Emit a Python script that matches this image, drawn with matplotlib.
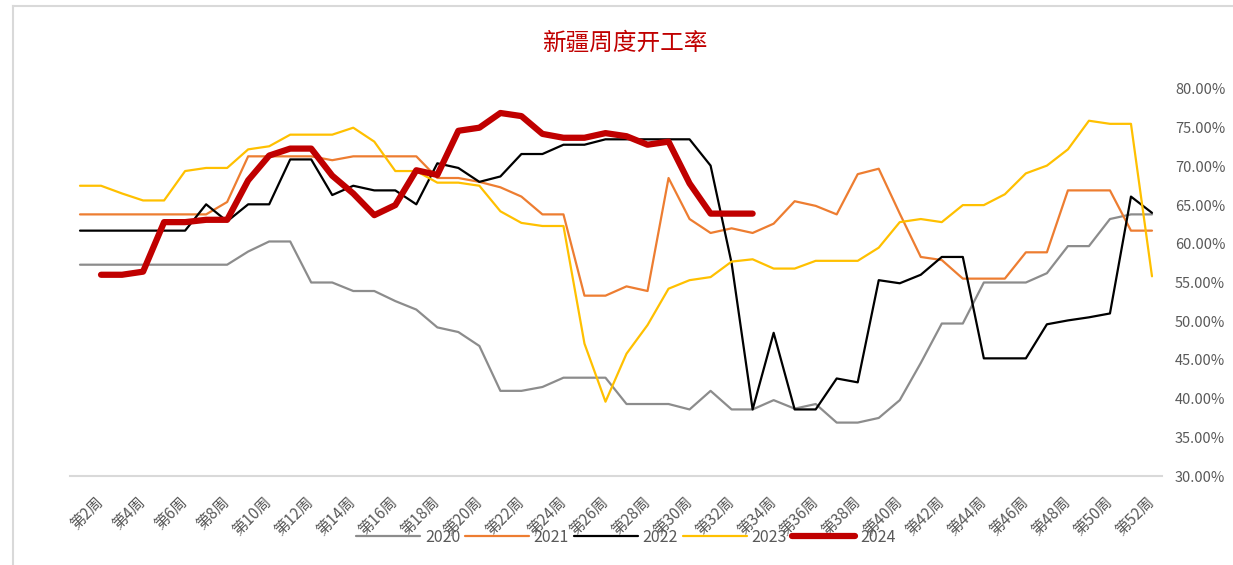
import numpy as np
import matplotlib
matplotlib.use("Agg")
import matplotlib.pyplot as plt
from matplotlib.lines import Line2D

plt.rcParams['font.family'] = ['Noto Sans CJK SC', 'DejaVu Sans']

# week 1..52
weeks = list(range(1, 53))
tick_weeks = list(range(2, 53, 2))
tick_labels = [f"第{w}周" for w in tick_weeks]

y2020 = [57.3, 57.3, 57.3, 57.3, 57.3, 57.3, 57.3, 57.3, 59.0, 60.3,
         60.3, 55.0, 55.0, 53.9, 53.9, 52.6, 51.5, 49.2, 48.6, 46.8,
         41.0, 41.0, 41.5, 42.7, 42.7, 42.7, 39.3, 39.3, 39.3, 38.6,
         41.0, 38.6, 38.6, 39.8, 38.7, 39.3, 36.9, 36.9, 37.5, 39.8,
         44.6, 49.7, 49.7, 55.0, 55.0, 55.0, 56.2, 59.7, 59.7, 63.2,
         63.8, 63.8]
y2021 = [63.8, 63.8, 63.8, 63.8, 63.8, 63.8, 63.8, 65.4, 71.3, 71.3,
         71.3, 71.3, 70.8, 71.3, 71.3, 71.3, 71.3, 68.5, 68.5, 68.0,
         67.3, 66.1, 63.8, 63.8, 53.3, 53.3, 54.5, 53.9, 68.5, 63.2,
         61.4, 62.0, 61.4, 62.6, 65.5, 64.9, 63.8, 69.0, 69.7, 63.9,
         58.3, 57.9, 55.5, 55.5, 55.5, 58.9, 58.9, 66.9, 66.9, 66.9,
         61.7, 61.7]
y2022 = [61.7, 61.7, 61.7, 61.7, 61.7, 61.7, 65.1, 62.9, 65.1, 65.1,
         70.9, 70.9, 66.3, 67.5, 66.9, 66.9, 65.1, 70.4, 69.8, 68.0,
         68.7, 71.6, 71.6, 72.8, 72.8, 73.5, 73.5, 73.5, 73.5, 73.5,
         70.1, 57.5, 38.6, 48.5, 38.6, 38.6, 42.6, 42.1, 55.3, 54.9,
         56.0, 58.3, 58.3, 45.2, 45.2, 45.2, 49.6, 50.1, 50.5, 51.0,
         66.1, 64.0]
y2023 = [67.5, 67.5, 66.5, 65.6, 65.6, 69.4, 69.8, 69.8, 72.2, 72.6,
         74.1, 74.1, 74.1, 75.0, 73.2, 69.4, 69.4, 67.9, 67.9, 67.5,
         64.2, 62.7, 62.3, 62.3, 47.1, 39.6, 45.8, 49.5, 54.2, 55.3,
         55.7, 57.7, 58.0, 56.8, 56.8, 57.8, 57.8, 57.8, 59.5, 62.8,
         63.2, 62.8, 65.0, 65.0, 66.4, 69.1, 70.1, 72.2, 75.9, 75.5,
         75.5, 55.8]
y2024 = [np.nan, 56.0, 56.0, 56.4, 62.8, 62.8, 63.1, 63.1, 68.2, 71.4,
         72.3, 72.3, 68.8, 66.5, 63.7, 65.0, 69.5, 68.9, 74.6, 75.0,
         76.9, 76.5, 74.2, 73.7, 73.7, 74.3, 73.9, 72.8, 73.2, 67.8,
         63.9, 63.9, 63.9] + [np.nan] * 19

series = [("2020", y2020, "#8C8C8C", 1.6),
          ("2021", y2021, "#ED7D31", 1.6),
          ("2022", y2022, "#000000", 1.6),
          ("2023", y2023, "#FFC000", 1.6),
          ("2024", y2024, "#C00000", 4.5)]

fig = plt.figure(figsize=(12.33, 5.65), dpi=100)
ax = fig.add_axes([69.5 / 1233, (565 - 476) / 565,
                   (1162.5 - 69.5) / 1233, 387 / 565])

for name, vals, color, lw in series:
    ax.plot(weeks, vals, color=color, lw=lw, label=name,
            solid_capstyle='round', solid_joinstyle='round')

ax.set_xlim(0.5, 52.5)
ax.set_ylim(30, 80)
ax.set_yticks(np.arange(30, 81, 5))
ax.set_yticklabels([f"{v:.2f}%" for v in np.arange(30, 81, 5)])
ax.yaxis.tick_right()
ax.tick_params(axis='y', length=0, pad=9, labelsize=10.5, labelcolor='#595959')

ax.set_xticks(tick_weeks)
ax.set_xticklabels(tick_labels, rotation=45, ha='right', va='center',
                   rotation_mode='anchor')
ax.tick_params(axis='x', length=0, pad=17, labelsize=11, labelcolor='#595959')

for s in ['top', 'left', 'right']:
    ax.spines[s].set_visible(False)
ax.spines['bottom'].set_color('#D9D9D9')
ax.spines['bottom'].set_linewidth(1.5)

fig.text(625 / 1233, 1 - 43 / 565, "新疆周度开工率", color='#C00000',
         fontsize=17, ha='center', va='center')

fig.legend(loc='center', bbox_to_anchor=(626 / 1233, 28 / 565), ncol=5,
           frameon=False, fontsize=11.5, handlelength=4.0, handletextpad=0.3,
           columnspacing=0.3, labelcolor='#595959')

# outer border
fig.add_artist(Line2D([13 / 1233, 13 / 1233], [0, 1 - 6 / 565],
                      color='#D9D9D9', lw=1.5))
fig.add_artist(Line2D([13 / 1233, 1], [1 - 6 / 565, 1 - 6 / 565],
                      color='#D9D9D9', lw=1.5))

fig.savefig("out.png", dpi=100)
